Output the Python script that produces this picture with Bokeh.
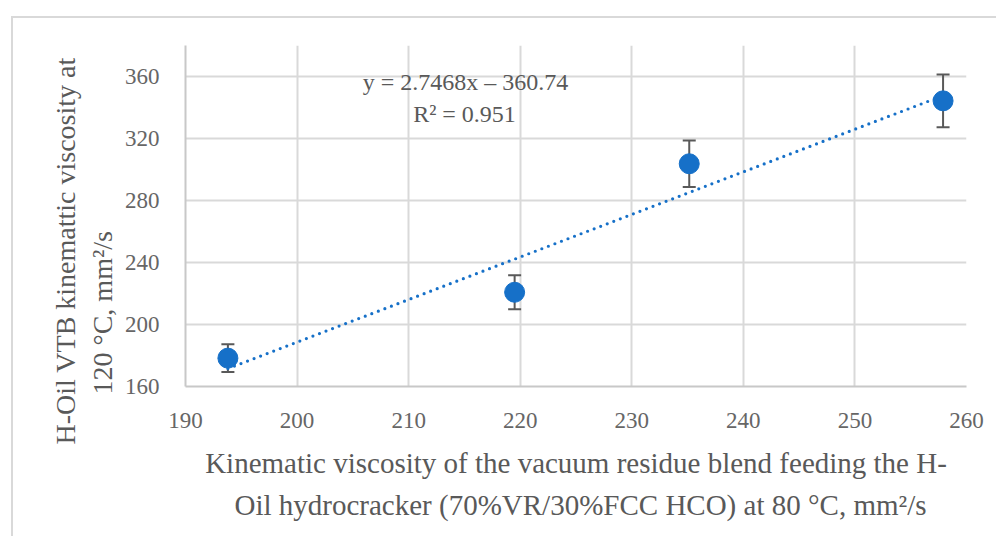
import numpy as np
from bokeh.plotting import figure
from bokeh.models import ColumnDataSource, Whisker, Label, Range1d, FixedTicker, TeeHead, Title
from bokeh.embed import file_html
from bokeh.resources import INLINE

# ---- data ----
feed_visc = [193.8, 219.5, 235.15, 257.9]      # x: VR blend viscosity at 80 C
vtb_visc = [178.3, 220.8, 303.7, 344.3]        # y: H-Oil VTB viscosity at 120 C
vtb_err = [9.0, 11.0, 15.0, 17.0]              # +/- error
slope = 2.7468
intercept = -360.74
r_squared = 0.951
x_ticks = [190, 200, 210, 220, 230, 240, 250, 260]
y_ticks = [160, 200, 240, 280, 320, 360]
x_title = ["Kinematic viscosity of the vacuum residue blend feeding the H-",
           "Oil hydrocracker (70%VR/30%FCC HCO) at 80 \u00b0C, mm\u00b2/s"]
y_title = ["H-Oil VTB kinemattic viscosity  at", "120 \u00b0C, mm\u00b2/s"]

FONT = "Liberation Serif"
TXT = "#595959"
TICK = "#666666"
BLUE = "#1670C8"

W, H = 985, 520
p = figure(width=W, height=H, output_backend="svg", toolbar_location=None,
           x_range=Range1d(190, 260), y_range=Range1d(160, 380),
           min_border_left=172, min_border_right=32, min_border_top=27, min_border_bottom=152)
p.styles = {"margin-left": "11px", "margin-top": "16px",
            "border-left": "2px solid #d9d9d9", "border-top": "2px solid #d9d9d9"}
p.outline_line_color = None
p.background_fill_color = "white"
p.border_fill_color = "white"

p.xaxis.ticker = FixedTicker(ticks=x_ticks)
p.yaxis.ticker = FixedTicker(ticks=y_ticks)
for ax in (p.xaxis[0], p.yaxis[0]):
    ax.axis_line_color = "#c8c8c8"
    ax.axis_line_width = 2
    ax.major_tick_line_color = None
    ax.minor_tick_line_color = None
    ax.major_label_text_font = FONT
    ax.major_label_text_font_size = "23px"
    ax.major_label_text_color = TICK
p.yaxis.major_label_standoff = 20
p.xaxis.major_label_standoff = 20
p.xgrid.grid_line_color = "#d9d9d9"
p.ygrid.grid_line_color = "#d9d9d9"
p.xgrid.grid_line_width = 2
p.ygrid.grid_line_width = 2

# x axis title, first line as the axis label
p.xaxis.axis_label = x_title[0]
p.xaxis.axis_label_text_font = FONT
p.xaxis.axis_label_text_font_size = "29px"
p.xaxis.axis_label_text_font_style = "normal"
p.xaxis.axis_label_text_color = TXT
p.xaxis.axis_label_standoff = 16

# trend line
xs = np.array([min(feed_visc), max(feed_visc)])
p.line(xs, slope * xs + intercept, line_color=BLUE, line_width=3.2,
       line_dash="0 7", line_cap="round")

# error bars
src = ColumnDataSource(dict(x=feed_visc, y=vtb_visc,
                            upper=[v + e for v, e in zip(vtb_visc, vtb_err)],
                            lower=[v - e for v, e in zip(vtb_visc, vtb_err)]))
wh = Whisker(source=src, base="x", upper="upper", lower="lower", dimension="height",
             line_color="#595959", line_width=2,
             upper_head=TeeHead(size=13, line_color="#595959", line_width=2),
             lower_head=TeeHead(size=13, line_color="#595959", line_width=2))
p.add_layout(wh)
p.scatter("x", "y", source=src, size=20, fill_color=BLUE, line_color=BLUE)

# pixel -> data helpers for text placement (frame: 185..966 x 45..386 page px)
def dx(px):
    return 190 + (px - 185) * 70 / 781.0

def dy(py):
    return 160 + (386 - py) * 220 / 341.0

def lab(text, px, py, size):
    p.add_layout(Label(x=dx(px), y=dy(py), text=text, text_font=FONT,
                       text_font_size=size, text_color=TXT,
                       text_align="center", text_baseline="middle"))

lab(f"y = {slope}x \u2013 {abs(intercept)}", 465, 81, "24px")
lab(f"R\u00b2 = {r_squared}", 464, 113, "24px")

def side_title(text, side, offset, standoff, size):
    t = Title(text=text, align="left", offset=offset, standoff=standoff,
              text_font=FONT, text_font_size=size, text_color=TXT,
              text_font_style="normal")
    p.add_layout(t, side)

# axis titles (inner line first)
side_title(y_title[1], "left", -8, 8, "28px")
side_title(y_title[0], "left", -58, 0, "28px")
side_title(x_title[1], "below", 49, 10, "29px")

open("out.html", "w").write(file_html(p, INLINE))
